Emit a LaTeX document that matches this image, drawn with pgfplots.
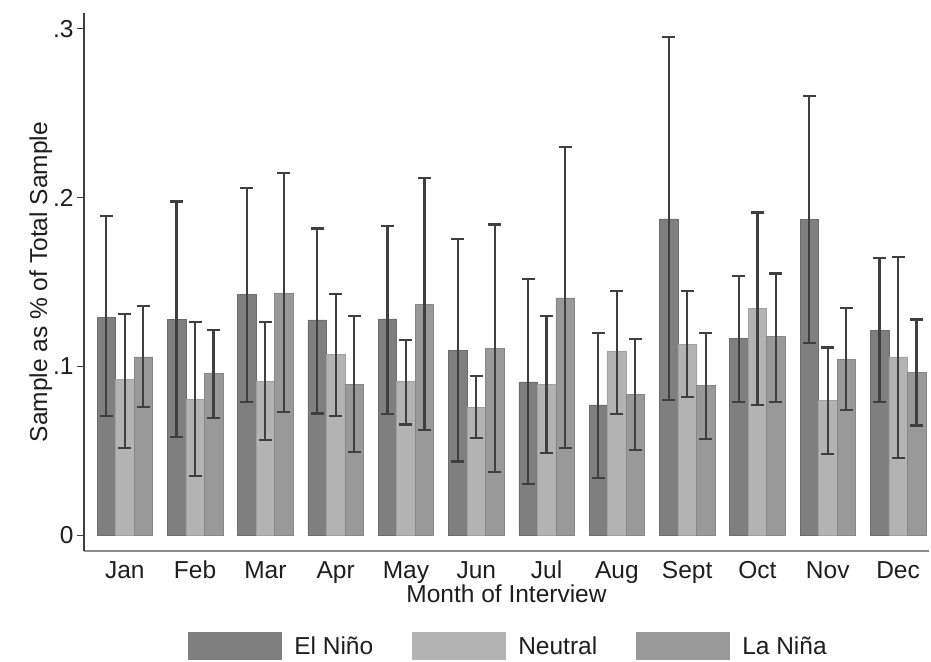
\documentclass[border=0pt]{standalone}
\usepackage{fontspec}
\setmainfont{Liberation Sans}
\usepackage{pgfplots}
\usepackage{pgfplotstable}
\pgfplotsset{compat=1.18}
\definecolor{cEN}{HTML}{7F7F7F}
\definecolor{cNE}{HTML}{B3B3B3}
\definecolor{cLN}{HTML}{999999}
\definecolor{cerr}{HTML}{3F3F3F}
\definecolor{ctxt}{HTML}{1E1E1E}

\pgfplotstableread{
x  en     enhi   enlo    ne     nehi   nelo    ln     lnhi   lnlo
0  0.1290 0.1890 0.0705  0.0922 0.1310 0.0520  0.1057 0.1360 0.0758
1  0.1278 0.1977 0.0581  0.0806 0.1263 0.0352  0.0958 0.1217 0.0695
2  0.1425 0.2055 0.0792  0.0914 0.1263 0.0564  0.1432 0.2143 0.0733
3  0.1276 0.1817 0.0722  0.1074 0.1427 0.0705  0.0895 0.1297 0.0493
4  0.1282 0.1832 0.0720  0.0912 0.1156 0.0657  0.1368 0.2118 0.0625
5  0.1097 0.1756 0.0438  0.0760 0.0943 0.0579  0.1105 0.1840 0.0375
6  0.0909 0.1518 0.0303  0.0895 0.1297 0.0490  0.1406 0.2297 0.0520
7  0.0773 0.1198 0.0341  0.1088 0.1446 0.0720  0.0836 0.1164 0.0507
8  0.1874 0.2949 0.0800  0.1133 0.1446 0.0819  0.0888 0.1198 0.0571
9  0.1166 0.1535 0.0792  0.1345 0.1912 0.0773  0.1177 0.1550 0.0792
10 0.1869 0.2600 0.1137  0.0798 0.1112 0.0480  0.1042 0.1347 0.0741
11 0.1213 0.1642 0.0792  0.1057 0.1650 0.0457  0.0964 0.1278 0.0651
}\data

\begin{document}
\begin{tikzpicture}
\begin{axis}[
  scale only axis, width=845pt, height=537.6pt,
  xmin=-0.58, xmax=11.44, ymin=-0.0092, ymax=0.309,
  axis x line=bottom, axis y line=left,
  x axis line style={-, draw=gray!90, line width=2pt},
  y axis line style={-, draw=cerr, line width=1.4pt},
  ybar=0pt, bar width=18.5pt,
  xtick={0,...,11},
  xticklabels={Jan,Feb,Mar,Apr,May,Jun,Jul,Aug,Sept,Oct,Nov,Dec},
  x tick style={draw=none},
  ytick={0,0.1,0.2,0.3}, yticklabels={0,.1,.2,.3},
  y tick style={draw=cerr, line width=1.2pt},
  tick align=outside, major tick length=7pt,
  tick label style={font=\fontsize{24.5}{28}\selectfont, text=ctxt},
  xticklabel style={text height=17pt, text depth=0pt, inner ysep=0pt, yshift=-3pt},
  /pgf/number format/assume math mode=true,
  label style={font=\fontsize{24.5}{28}\selectfont, text=ctxt},
  xlabel={Month of Interview},
  ylabel={Sample as \% of Total Sample},
  xlabel style={text height=17pt, inner ysep=0pt, yshift=-7pt},
  ylabel style={yshift=-6pt},
  legend columns=3,
  legend style={draw=none, fill=none, at={(0.5,0)}, anchor=north, xshift=2pt, yshift=-79pt,
    font=\fontsize{24.5}{28}\selectfont, text=ctxt,
    /tikz/every odd column/.append style={column sep=10pt},
    /tikz/every even column/.append style={column sep=37pt}},
  legend image code/.code={\path[#1, draw=none] (0pt,-14pt) rectangle (94pt,14pt);},
  error bars/y dir=both, error bars/y explicit,
  error bars/error mark options={rotate=90, mark size=6.5pt, line width=2.2pt, draw=cerr},
  error bars/error bar style={line width=2.2pt, draw=cerr},
]
\addplot[fill=cEN, draw=cEN!85!black, line width=0.6pt]
  table[x=x, y=en, y error plus expr=\thisrow{enhi}-\thisrow{en}, y error minus expr=\thisrow{en}-\thisrow{enlo}] {\data};
\addplot[fill=cNE, draw=cNE!90!black, line width=0.6pt]
  table[x=x, y=ne, y error plus expr=\thisrow{nehi}-\thisrow{ne}, y error minus expr=\thisrow{ne}-\thisrow{nelo}] {\data};
\addplot[fill=cLN, draw=cLN!88!black, line width=0.6pt]
  table[x=x, y=ln, y error plus expr=\thisrow{lnhi}-\thisrow{ln}, y error minus expr=\thisrow{ln}-\thisrow{lnlo}] {\data};
\legend{El Niño, Neutral, La Niña}
\end{axis}
\pgfresetboundingbox
\path ([xshift=-84pt,yshift=-110pt]current axis.south west) rectangle ([xshift=2pt,yshift=13.4pt]current axis.north east);
\end{tikzpicture}
\end{document}
